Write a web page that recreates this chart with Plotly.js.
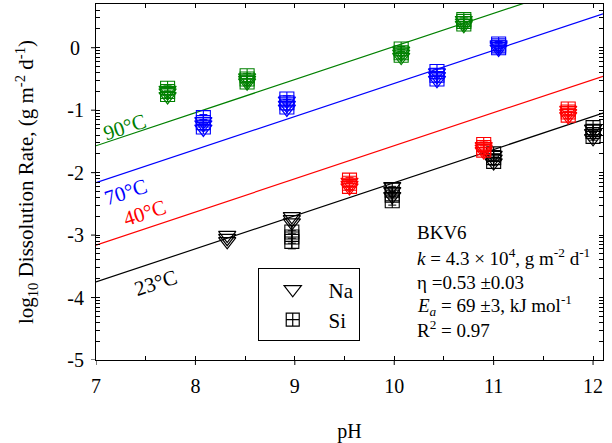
<!DOCTYPE html>
<html>
<head>
<meta charset="utf-8">
<script src="https://cdn.plot.ly/plotly-3.0.1.min.js"></script>
<style>
  html, body { margin: 0; padding: 0; background: #ffffff; }
  #chart { width: 612px; height: 443px; }
</style>
</head>
<body>
<div id="chart"></div>
<script>
// Series: one per dissolution temperature
const temps = ['23°C', '40°C', '70°C', '90°C'];
const colors = ['#000000', '#ff0000', '#0000ff', '#008000'];

// Fitted lines, evaluated at the two ends of the pH axis
const fitPH = [7, 12.1];
const fit23 = [-3.75, -1.047];
const fit40 = [-3.16, -0.457];
const fit70 = [-2.16, 0.543];
const fit90 = [-1.57, 1.133];

// Measured log10 rates: replicate values at each pH (Na release and Si release)
const ph23 = [8.32, 8.97, 9.98, 11.0, 12.0];
const na23 = [[-3.0, -3.05, -3.1], [-2.7, -2.75, -2.8], [-2.22, -2.3, -2.38], [-1.72, -1.78, -1.84], [-1.3, -1.37, -1.45]];
const si23 = [[], [-2.95, -3.03, -3.1], [-2.28, -2.36, -2.45], [-1.7, -1.76, -1.82], [-1.28, -1.34, -1.42]];
const siErr23 = [[], [0.1, 0.1, 0.12], [0.06, 0.06, 0.07], [0.05, 0.05, 0.06], [0.05, 0.06, 0.06]];

const ph40 = [9.55, 10.9, 11.75];
const na40 = [[-2.15, -2.2, -2.24], [-1.58, -1.62, -1.66], [-1.0, -1.05, -1.1]];
const si40 = [[-2.12, -2.17, -2.22], [-1.55, -1.6, -1.64], [-0.98, -1.03, -1.08]];
const siErr40 = [[0.04, 0.04, 0.05], [0.04, 0.04, 0.04], [0.04, 0.04, 0.05]];

const ph70 = [8.08, 8.92, 10.43, 11.05];
const na70 = [[-1.18, -1.23, -1.3], [-0.85, -0.92, -0.98], [-0.4, -0.46, -0.52], [-0.02, 0.02, 0.05]];
const si70 = [[-1.12, -1.2, -1.27], [-0.82, -0.88, -0.95], [-0.38, -0.44, -0.5], [0.0, 0.03, 0.06]];
const siErr70 = [[0.05, 0.05, 0.06], [0.05, 0.05, 0.05], [0.04, 0.05, 0.05], [0.04, 0.04, 0.04]];

const ph90 = [7.72, 8.52, 10.07, 10.7];
const na90 = [[-0.68, -0.72, -0.78], [-0.48, -0.52, -0.56], [-0.05, -0.1, -0.15], [0.36, 0.4, 0.44]];
const si90 = [[-0.65, -0.7, -0.75], [-0.45, -0.5, -0.55], [-0.02, -0.08, -0.12], [0.38, 0.42, 0.45]];
const siErr90 = [[0.04, 0.05, 0.05], [0.04, 0.04, 0.05], [0.04, 0.05, 0.05], [0.04, 0.04, 0.04]];

// Axis ticks
const xTicks = [7, 8, 9, 10, 11, 12];
const xTickText = ['7', '8', '9', '10', '11', '12'];
const yTicks = [-5, -4, -3, -2, -1, 0];
const yTickText = ['-5', '-4', '-3', '-2', '-1', '0\u2009'];

const series = [
  { ph: ph23, na: na23, si: si23, err: siErr23, fit: fit23 },
  { ph: ph40, na: na40, si: si40, err: siErr40, fit: fit40 },
  { ph: ph70, na: na70, si: si70, err: siErr70, fit: fit70 },
  { ph: ph90, na: na90, si: si90, err: siErr90, fit: fit90 }
];

// Expand replicate groups into flat x / y lists
function flatten(phs, groups) {
  const xs = [], ys = [];
  phs.forEach((p, i) => groups[i].forEach(v => { xs.push(p); ys.push(v); }));
  return { x: xs, y: ys };
}

const font = 'Liberation Serif';
const traces = [];

series.forEach((s, i) => {
  traces.push({
    type: 'scatter', mode: 'lines', x: fitPH, y: s.fit,
    line: { color: colors[i], width: 1.2 }, showlegend: false, hoverinfo: 'skip'
  });
});

series.forEach((s, i) => {
  const si = flatten(s.ph, s.si);
  const er = flatten(s.ph, s.err);
  traces.push({
    type: 'scatter', mode: 'markers', x: si.x, y: si.y, name: 'Si ' + temps[i],
    marker: { symbol: 'square-cross-open', size: 14, color: colors[i], line: { width: 1.1, color: colors[i] } },
    error_y: { type: 'data', array: er.y, color: colors[i], thickness: 1, width: 4 },
    showlegend: false
  });
  const na = flatten(s.ph, s.na);
  traces.push({
    type: 'scatter', mode: 'markers', x: na.x, y: na.y, name: 'Na ' + temps[i],
    marker: { symbol: 'triangle-down-open', size: 15, color: colors[i], line: { width: 1.2, color: colors[i] } },
    showlegend: false
  });
});

// Legend entries (symbol key only)
traces.push({
  type: 'scatter', mode: 'markers', x: [null], y: [null], name: '\u00a0\u00a0\u00a0Na',
  marker: { symbol: 'triangle-down-open', size: 15, color: '#000', line: { width: 1.2, color: '#000' } }
});
traces.push({
  type: 'scatter', mode: 'markers', x: [null], y: [null], name: '\u00a0\u00a0\u00a0Si',
  marker: { symbol: 'square-cross-open', size: 13, color: '#000', line: { width: 1.2, color: '#000' } }
});

// Logarithmic minor ticks within each decade of the y axis
const yMinor = [];
for (let n = -5; n <= 0; n++) {
  for (let k = 2; k <= 9; k++) {
    const v = n + Math.log10(k);
    if (v <= 0.7) yMinor.push(v);
  }
}
const xMinor = [7.5, 8.5, 9.5, 10.5, 11.5];

const xRange = [7, 12.1];
const yRange = [-5, 0.7];

const statX = 0.629;
const statLines = [
  'BKV6',
  '<i>k</i> = 4.3 × 10<sup>4</sup>, g m<sup>-2</sup> d<sup>-1</sup>',
  'η =0.53 ±0.03',
  '<i>E<sub>a</sub></i> = 69 ±3, kJ mol<sup>-1</sup>',
  'R<sup>2</sup> = 0.97'
];
const statY = [0.357, 0.289, 0.219, 0.154, 0.087];

const annotations = statLines.map((t, i) => ({
  text: t, xref: 'paper', yref: 'paper', x: statX, y: statY[i],
  xanchor: 'left', yanchor: 'middle', showarrow: false,
  font: { family: font, size: 19, color: '#000' }
}));

// Temperature labels placed along their fit lines
const labelPH = [7.6, 7.49, 7.3, 7.29];
const labelLog = [-3.77, -2.64, -2.31, -1.27];
temps.forEach((t, i) => {
  annotations.push({
    text: t, xref: 'x', yref: 'y', x: labelPH[i], y: labelLog[i],
    showarrow: false, textangle: -18,
    font: { family: font, size: 21, color: colors[i] }
  });
});

// Outward half of the major ticks on the bottom and left axes
const shapes = [];
xTicks.forEach(v => shapes.push({
  type: 'line', xref: 'x', yref: 'paper', ysizemode: 'pixel', yanchor: 0,
  x0: v, x1: v, y0: 0, y1: -5, line: { color: '#000', width: 1 }
}));
yTicks.forEach(v => shapes.push({
  type: 'line', xref: 'paper', yref: 'y', xsizemode: 'pixel', xanchor: 0,
  x0: 0, x1: -5, y0: v, y1: v, line: { color: '#000', width: 1 }
}));

const tickFont = { family: font, size: 20, color: '#000' };

const layout = {
  width: 612, height: 443,
  margin: { l: 96, r: 9, t: 4, b: 83 },
  paper_bgcolor: '#ffffff', plot_bgcolor: '#ffffff',
  font: { family: font, size: 20, color: '#000' },
  showlegend: true,
  legend: {
    x: 0.319, y: 0.258, xanchor: 'left', yanchor: 'top',
    bgcolor: '#ffffff', bordercolor: '#000', borderwidth: 1,
    font: { family: font, size: 21, color: '#000' },
    indentation: 14, tracegroupgap: 0
  },
  xaxis: {
    range: xRange, tickmode: 'array', tickvals: xTicks, ticktext: xTickText,
    ticks: 'inside', ticklen: 4, tickcolor: '#000', tickwidth: 1,
    showline: true, linecolor: '#000', linewidth: 1, mirror: 'allticks',
    showgrid: false, zeroline: false, ticklabelstandoff: 8,
    tickfont: tickFont,
    minor: { tickmode: 'array', tickvals: xMinor, ticks: 'inside', ticklen: 4, tickcolor: '#000', showgrid: false },
    title: { text: 'pH', font: { family: font, size: 20, color: '#000' }, standoff: 30 }
  },
  yaxis: {
    range: yRange, tickmode: 'array', tickvals: yTicks, ticktext: yTickText,
    ticks: 'inside', ticklen: 4, tickcolor: '#000', tickwidth: 1,
    showline: true, linecolor: '#000', linewidth: 1, mirror: 'allticks',
    showgrid: false, zeroline: false, ticklabelstandoff: 7,
    tickfont: tickFont,
    minor: { tickmode: 'array', tickvals: yMinor, ticks: 'inside', ticklen: 4, tickcolor: '#000', showgrid: false },
    title: { text: 'log<sub>10</sub> Dissolution Rate, (g m<sup>-2</sup> d<sup>-1</sup>)', font: { family: font, size: 21, color: '#000' }, standoff: 27 }
  },
  shapes: shapes,
  annotations: annotations
};

Plotly.newPlot('chart', traces, layout, { staticPlot: true, displayModeBar: false });
</script>
</body>
</html>
